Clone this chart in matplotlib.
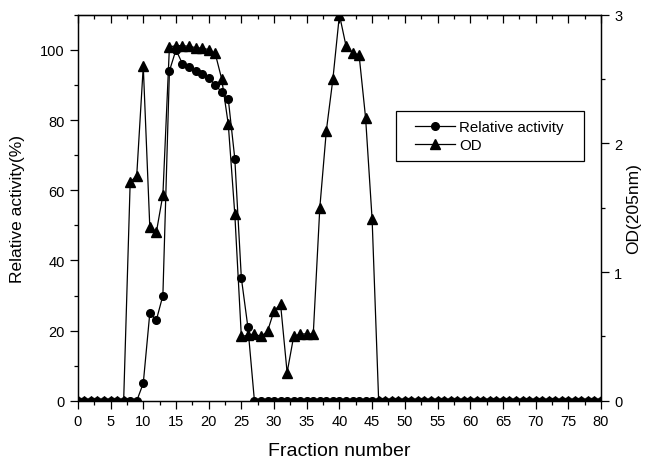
import numpy as np
import matplotlib
matplotlib.use("Agg")
import matplotlib.pyplot as plt
from matplotlib.ticker import MultipleLocator
from matplotlib.patches import Rectangle

plt.rcParams['font.family'] = ['Liberation Sans', 'DejaVu Sans']

# fraction numbers 0..80
fractions = list(range(0, 81))

# relative activity (%), fractions 0..27, zero afterwards
activity_head = [0, 0, 0, 0, 0, 0, 0, 0, 0, 0,
                 5, 25, 23, 30, 94, 100, 96, 95, 94, 93,
                 92, 90, 88, 86, 69, 35, 21, 0]
activity = activity_head + [0] * (81 - len(activity_head))

# OD(205nm), fractions 0..46, zero afterwards
od_head = [0, 0, 0, 0, 0, 0, 0, 0, 1.70, 1.75,
           2.60, 1.35, 1.31, 1.60, 2.75, 2.76, 2.76, 2.755, 2.745, 2.74,
           2.73, 2.70, 2.50, 2.15, 1.45, 0.50, 0.51, 0.52, 0.50, 0.54,
           0.70, 0.75, 0.22, 0.50, 0.52, 0.52, 0.52, 1.50, 2.10, 2.50,
           3.00, 2.76, 2.70, 2.69, 2.20, 1.41, 0]
od = od_head + [0] * (81 - len(od_head))

fig = plt.figure(figsize=(6.49, 4.64), dpi=100)
ax = fig.add_axes([0.120, 0.134, 0.806, 0.832])
ax2 = ax.twinx()

l1, = ax.plot(fractions, activity, color='black', lw=0.9, marker='o',
              markersize=5.5, label='Relative activity')
l2, = ax2.plot(fractions, od, color='black', lw=0.9, marker='^',
               markersize=6.5, label='OD')

ax.set_xlim(0, 80)
ax.set_ylim(0, 110)
ax2.set_ylim(0, 3)

ax.xaxis.set_major_locator(MultipleLocator(5))
ax.xaxis.set_minor_locator(MultipleLocator(2.5))
ax.yaxis.set_major_locator(MultipleLocator(20))
ax.yaxis.set_minor_locator(MultipleLocator(10))
ax2.yaxis.set_major_locator(MultipleLocator(1))
ax2.yaxis.set_minor_locator(MultipleLocator(0.5))

ax.tick_params(axis='both', which='major', direction='out', length=6,
               width=0.9, labelsize=10.5)
ax.tick_params(axis='both', which='minor', direction='out', length=3, width=0.9)
ax2.tick_params(axis='y', which='major', direction='out', length=6,
                width=0.9, labelsize=10.5)
ax2.tick_params(axis='y', which='minor', direction='out', length=3, width=0.9)

top = ax.secondary_xaxis('top')
top.xaxis.set_major_locator(MultipleLocator(5))
top.xaxis.set_minor_locator(MultipleLocator(2.5))
top.tick_params(which='major', direction='in', length=6, width=0.9, labeltop=False)
top.tick_params(which='minor', direction='in', length=3, width=0.9)

for a in (ax, ax2):
    for s in a.spines.values():
        s.set_linewidth(0.9)

ax.set_xlabel('Fraction number', fontsize=14, labelpad=10)
ax.set_ylabel('Relative activity(%)', fontsize=12.5, labelpad=11)
ax2.set_ylabel('OD(205nm)', fontsize=12.5, labelpad=3, rotation=90)

# legend: frameless, with a box drawn around it like the original
leg = ax2.legend(handles=[l1, l2], loc='center left',
                 bbox_to_anchor=(0.644, 0.686), fontsize=10.8,
                 frameon=False, borderpad=0, handlelength=2.7,
                 handletextpad=0.27, labelspacing=0.27, borderaxespad=0)
ax2.add_patch(Rectangle((0.609, 0.621), 0.359, 0.1285, transform=ax2.transAxes,
                        fill=False, edgecolor='black', lw=0.9, zorder=5))

fig.savefig('out.png', dpi=100)
